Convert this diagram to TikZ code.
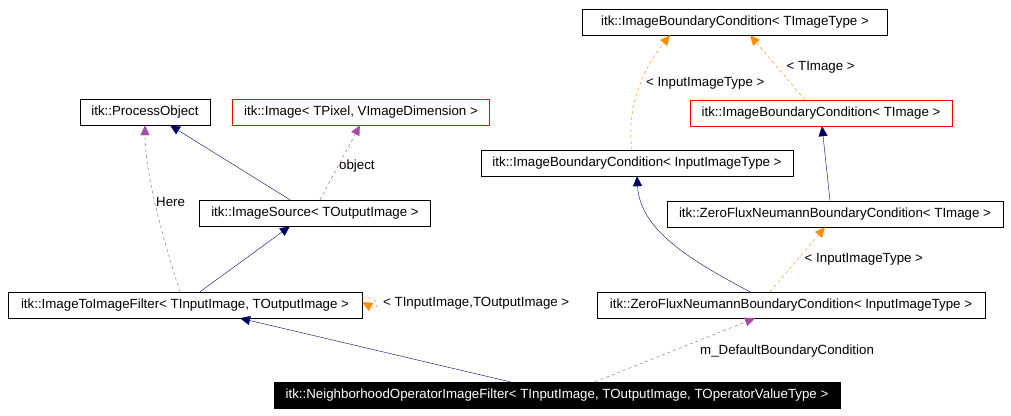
\documentclass[tikz,border=0pt]{standalone}
\usepackage{fontspec}
\setmainfont{Liberation Sans}
\usetikzlibrary{arrows.meta}
\begin{document}
\begin{tikzpicture}[x=1pt,y=-1pt,
 box/.style={draw=black,fill=white,minimum height=26pt,inner xsep=2pt,font=\fontsize{13.3}{15}\selectfont},
 redbox/.style={box,draw=red},
 inh/.style={draw=blue!40!black,-{Triangle[length=10pt,width=9pt]}},
 use/.style={draw=violet!70!white,dashed,-{Triangle[length=10pt,width=9pt]}},
 tpl/.style={draw=orange!90!yellow,dashed,-{Triangle[length=10pt,width=9pt]}},
 lab/.style={font=\fontsize{13.3}{15}\selectfont,inner sep=1pt}]
\useasboundingbox (0,0) rectangle (1011,415);
\node[box,minimum width=305pt] (ibcT) at (735,22) {itk::ImageBoundaryCondition< TImageType >};
\node[box,minimum width=130pt] (po) at (145,112) {itk::ProcessObject};
\node[redbox,minimum width=257pt] (img) at (361,112) {itk::Image< TPixel, VImageDimension >};
\node[redbox,minimum width=262pt] (ibcI) at (821,113) {itk::ImageBoundaryCondition< TImage >};
\node[box,minimum width=312pt] (ibcIn) at (637,163) {itk::ImageBoundaryCondition< InputImageType >};
\node[box,minimum width=231pt] (src) at (315,213) {itk::ImageSource< TOutputImage >};
\node[box,minimum width=336pt] (zfT) at (835,214) {itk::ZeroFluxNeumannBoundaryCondition< TImage >};
\node[box,minimum width=354pt] (itif) at (185,305) {itk::ImageToImageFilter< TInputImage, TOutputImage >};
\node[box,minimum width=388pt] (zfIn) at (791,305) {itk::ZeroFluxNeumannBoundaryCondition< InputImageType >};
\node[box,fill=black,text=white,minimum width=566pt] (noif) at (557,395) {itk::NeighborhoodOperatorImageFilter< TInputImage, TOutputImage, TOperatorValueType >};

\draw[inh] ([xshift=-25pt]src.north) -- ([xshift=25pt]po.south);
\draw[use] ([xshift=5pt]src.north) -- node[lab,right,pos=0.45]{object} ([xshift=-1pt]img.south);
\draw[use] ([xshift=-5pt]itif.north) .. controls (160,230) and (145,170) .. node[lab,right,pos=0.5]{Here} (po.south);
\draw[inh] ([xshift=15pt]itif.north) -- ([xshift=-25pt]src.south);
\draw[tpl] (itif.east) ++(0,-7) .. controls (380,295) and (380,312) .. ([yshift=3pt]itif.east);
\node[lab,anchor=west] at (382,303) {< TInputImage,TOutputImage >};
\draw[tpl] ([xshift=-5pt]ibcIn.north) .. controls (625,100) and (650,60) .. node[lab,pos=0.5,right,xshift=4pt]{< InputImageType >} ([xshift=-65pt]ibcT.south);
\draw[tpl] ([xshift=-16pt]ibcI.north) -- node[lab,pos=0.5,right,xshift=8pt]{< TImage >} ([xshift=15pt]ibcT.south);
\draw[inh] ([xshift=-5pt]zfT.north) -- ([xshift=1pt]ibcI.south);
\draw[tpl] ([xshift=-21pt]zfIn.north) -- node[lab,pos=0.5,right,xshift=6pt]{< InputImageType >} ([xshift=-10pt]zfT.south);
\draw[inh] ([xshift=-41pt]zfIn.north) .. controls (690,260) and (640,230) .. (ibcIn.south);
\draw[inh] ([xshift=-47pt]noif.north) -- ([xshift=55pt]itif.south);
\draw[use] ([xshift=38pt]noif.north) -- node[lab,pos=0.6,below right,xshift=8pt]{m\_DefaultBoundaryCondition} ([xshift=-36pt]zfIn.south);
\end{tikzpicture}
\end{document}
